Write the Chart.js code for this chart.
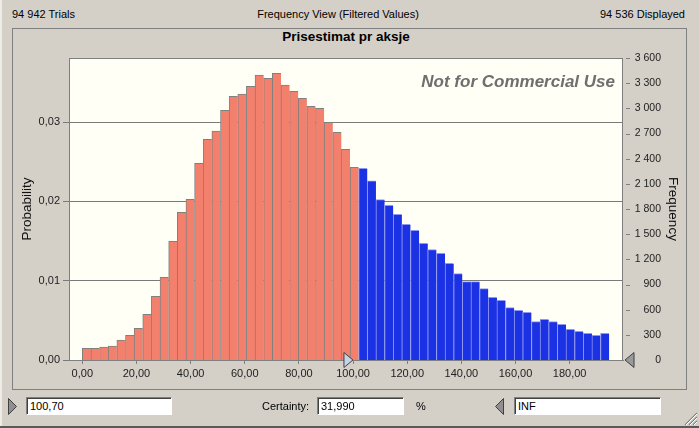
<!DOCTYPE html>
<html>
<head>
<meta charset="utf-8">
<script src="https://cdn.jsdelivr.net/npm/chart.js@4.4.1/dist/chart.umd.min.js"></script>
<style>
body { margin: 0; background: #d4d0c8; font-family: "Liberation Sans", Arial, sans-serif; font-size: 11px; color: #000; }
#win { position: relative; width: 699px; height: 428px; overflow: hidden; }
#win:before { content: ""; position: absolute; left: 0; top: 0; width: 2px; height: 428px; background: #eeece6; }
#win:after { content: ""; position: absolute; left: 0; top: 426px; width: 699px; height: 2px; background: #5a5a5a; }
.t { position: absolute; white-space: nowrap; line-height: 13px; }
#panel { position: absolute; left: 12px; top: 28px; width: 675px; height: 362px; border: 1px solid #808080; box-sizing: border-box; }
#mycanvas { position: absolute; left: 0; top: 0; }
.box { position: absolute; height: 18px; background: #fff; box-sizing: border-box;
  border-top: 1px solid #808080; border-left: 1px solid #808080; border-bottom: 1px solid #fff; border-right: 1px solid #fff;
  box-shadow: inset 1px 1px 0 #404040; padding: 2px 0 0 3px; line-height: 13px; }
svg { position: absolute; }
</style>
</head>
<body>
<div id="win">
  <div class="t" style="left:12px;top:8px;">94 942 Trials</div>
  <div class="t" style="left:238px;top:8px;width:200px;text-align:center;">Frequency View (Filtered Values)</div>
  <div class="t" style="right:14px;top:8px;">94 536 Displayed</div>
  <div id="panel"></div>
  <div class="t" style="left:246px;top:29px;width:200px;text-align:center;font-weight:bold;font-size:13.5px;line-height:16px;">Prisestimat pr aksje</div>
  <canvas id="mycanvas" width="699" height="428"></canvas>
  <div class="t" style="right:84px;top:72px;font-weight:bold;font-style:italic;font-size:17px;line-height:20px;color:#6f6f6f;">Not for Commercial Use</div>
  <div class="t" style="left:623px;top:201px;width:100px;text-align:center;font-size:13.5px;line-height:16px;color:#111;transform:rotate(90deg);">Frequency</div>

  <svg style="left:7px;top:397px;" width="12" height="19"><polygon points="1.5,1.5 9.5,9.5 1.5,17.5" fill="#8f8f8f" stroke="#404040" stroke-width="1"/></svg>
  <div class="box" style="left:26px;top:397px;width:146px;">100,70</div>
  <div class="t" style="left:262px;top:400px;">Certainty:</div>
  <div class="box" style="left:317px;top:397px;width:87px;">31,990</div>
  <div class="t" style="left:416px;top:400px;">%</div>
  <svg style="left:493px;top:397px;" width="12" height="19"><polygon points="10.5,1.5 2.5,9.5 10.5,17.5" fill="#8f8f8f" stroke="#404040" stroke-width="1"/></svg>
  <div class="box" style="left:514px;top:397px;width:147px;">INF</div>
  <svg style="left:682px;top:410px;" width="16" height="16">
    <path d="M15 3 L3 15 M15 7 L7 15 M15 11 L11 15" stroke="#808080" stroke-width="1.2"/>
    <path d="M15 4 L4 15 M15 8 L8 15 M15 12 L12 15" stroke="#ffffff" stroke-width="1"/>
  </svg>
</div>

<script>
var trials = 94536;
var binStart = 0;
var binWidth = 3.19;
var certaintyLow = 100.70;

var frequency = [
	139, 139, 155, 167, 238, 294, 377, 544, 759, 985,
	1414, 1760, 1915, 2344, 2630, 2730, 2976, 3143, 3170, 3262,
	3397, 3357, 3417, 3278, 3202, 3119, 3023, 3000, 2833, 2713,
	2511, 2296,
	2284, 2137, 1911, 1843, 1736, 1617, 1545, 1391, 1315, 1271,
	1152, 1029, 934, 934, 850, 747, 711, 624, 592, 568,
	457, 485, 457, 425, 366, 342, 318, 294, 318
];

var xTicks = [0, 20, 40, 60, 80, 100, 120, 140, 160, 180];
var probTicks = [0, 0.01, 0.02, 0.03];
var freqTicks = [0, 300, 600, 900, 1200, 1500, 1800, 2100, 2400, 2700, 3000, 3300, 3600];

var red = '#f3806c';
var blue = '#1b32e4';

var points = [];
for (var i in frequency) {
	points.push({ x: binStart + binWidth * (Number(i) + 0.5), y: frequency[i] });
}

function comma(v, d) { return v.toFixed(d).replace('.', ','); }
function spaced(v) { return String(v).replace(/\B(?=(\d{3})+(?!\d))/g, ' '); }

function triangle(ctx, pts, fill) {
	ctx.beginPath();
	ctx.moveTo(pts[0][0], pts[0][1]);
	ctx.lineTo(pts[1][0], pts[1][1]);
	ctx.lineTo(pts[2][0], pts[2][1]);
	ctx.closePath();
	ctx.fillStyle = fill;
	ctx.fill();
	ctx.strokeStyle = '#404040';
	ctx.stroke();
}

var frame = {
	id: 'frame',
	beforeDraw: function(chart) {
		var a = chart.chartArea, ctx = chart.ctx;
		ctx.save();
		ctx.fillStyle = '#fffff5';
		ctx.fillRect(a.left, a.top, a.right - a.left, a.bottom - a.top);
		ctx.restore();
	},
	afterDraw: function(chart) {
		var a = chart.chartArea, ctx = chart.ctx;
		ctx.save();
		ctx.lineWidth = 1;
		ctx.strokeStyle = '#7f7f7f';
		ctx.strokeRect(a.left + 0.5, a.top + 0.5, a.right - a.left - 1, a.bottom - a.top);
		// short ticks of the frequency axis
		var yF = chart.scales.yF;
		ctx.beginPath();
		freqTicks.forEach(function(v) {
			var y = Math.round(yF.getPixelForValue(v)) + 0.5;
			ctx.moveTo(a.right + 3, y);
			ctx.lineTo(a.right + 7, y);
		});
		ctx.stroke();
		// certainty grabbers
		var xp = chart.scales.x.getPixelForValue(certaintyLow);
		triangle(ctx, [[xp - 11, a.bottom - 7.5], [xp - 2, a.bottom], [xp - 11, a.bottom + 7.5]], '#c8d2e6');
		triangle(ctx, [[a.right + 11, a.bottom - 7.5], [a.right + 2, a.bottom], [a.right + 11, a.bottom + 7.5]], '#9a9a9a');
		ctx.restore();
	}
};

var ctx = document.getElementById('mycanvas');

var histogram = new Chart(ctx, {
	type: 'bar',
	data: {
		datasets: [{
			data: points,
			xAxisID: 'x',
			yAxisID: 'yF',
			barPercentage: 1,
			categoryPercentage: 1,
			backgroundColor: function(c) { return points[c.dataIndex].x < certaintyLow ? red : blue; },
			borderColor: function(c) { return points[c.dataIndex].x < certaintyLow ? '#808080' : '#8e98f2'; },
			borderWidth: { top: 1, left: 1, right: 0, bottom: 0 },
			borderSkipped: false
		}]
	},
	options: {
		responsive: false,
		devicePixelRatio: 1,
		animation: false,
		layout: { padding: { top: 58, left: 0, right: 38, bottom: 0 } },
		plugins: { legend: { display: false }, tooltip: { enabled: false } },
		scales: {
			x: {
				type: 'linear',
				position: 'bottom',
				offset: false,
				min: -4.91,
				max: 199.7,
				afterBuildTicks: function(s) { s.ticks = xTicks.map(function(v) { return { value: v }; }); },
				afterFit: function(s) { s.height = 68; },
				grid: { offset: false, drawOnChartArea: false, drawTicks: true, tickLength: 4, color: '#808080' },
				border: { display: true, color: '#7f7f7f' },
				ticks: {
					maxRotation: 0, padding: 3, color: '#222',
					font: { family: '"Liberation Sans", Arial', size: 11 },
					callback: function(v) { return comma(v, 2); }
				}
			},
			yP: {
				type: 'linear',
				position: 'left',
				min: 0,
				max: 3600 / trials,
				afterBuildTicks: function(s) { s.ticks = probTicks.map(function(v) { return { value: v }; }); },
				afterFit: function(s) { s.width = 69; },
				grid: { color: '#7a7a7a', tickLength: 6, drawTicks: true },
				border: { display: false },
				ticks: {
					padding: 3, color: '#222',
					font: { family: '"Liberation Sans", Arial', size: 11 },
					callback: function(v) { return comma(v, 2); }
				},
				title: {
					display: true, text: 'Probability', color: '#111',
					font: { family: '"Liberation Sans", Arial', size: 13.5 },
					padding: { top: 19, bottom: 0 }
				}
			},
			yF: {
				type: 'linear',
				position: 'right',
				min: 0,
				max: 3600,
				afterBuildTicks: function(s) { s.ticks = freqTicks.map(function(v) { return { value: v }; }); },
				afterFit: function(s) { s.width = 38; },
				grid: { display: false, drawTicks: false },
				border: { display: false },
				ticks: {
					padding: 11, crossAlign: 'far', color: '#222',
					font: { family: '"Liberation Sans", Arial', size: 10.5 },
					callback: function(v) { return spaced(v); }
				}
			}
		}
	},
	plugins: [frame]
});
</script>
</body>
</html>
